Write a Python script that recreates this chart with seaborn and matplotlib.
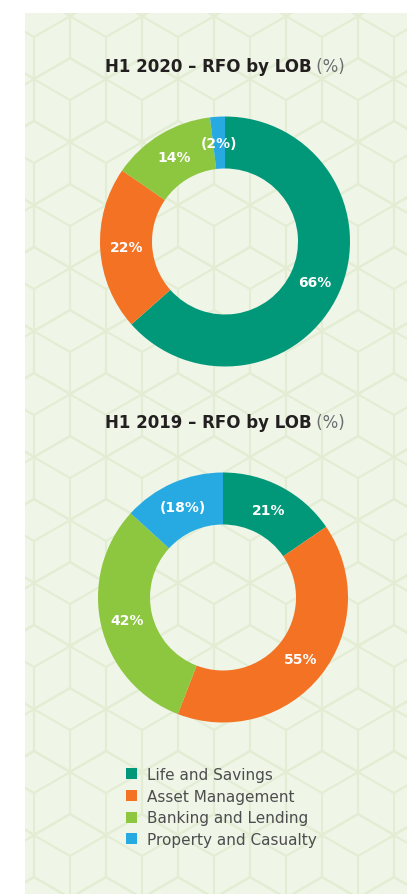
import numpy as np
import matplotlib
matplotlib.use("Agg")
import matplotlib.pyplot as plt
from matplotlib.patches import Rectangle
from matplotlib.collections import LineCollection
import seaborn as sns

# data
categories = ["Life and Savings", "Asset Management", "Banking and Lending", "Property and Casualty"]
rfo_2020 = [66, 22, 14, -2]
rfo_2019 = [21, 55, 42, -18]
titles = ["H1 2020 \u2013 RFO by LOB", "H1 2019 \u2013 RFO by LOB"]
colors = ["#009878", "#F37224", "#8DC63F", "#27AAE1"]

sns.set_theme(style="white")
plt.rcParams["font.family"] = ["DejaVu Sans"]

W, H = 407, 895
PANEL = "#EFF5E7"
HEXLINE = "#E2EDD3"

fig = plt.figure(figsize=(W / 100, H / 100), dpi=100)
fig.patch.set_facecolor("white")

# background panel with the hexagon pattern, in pixel coords
bg = fig.add_axes([0, 0, 1, 1])
bg.set_xlim(0, W)
bg.set_ylim(H, 0)
bg.axis("off")
panel = Rectangle((25, 14), W - 25, H - 14, facecolor=PANEL, edgecolor="none", zorder=0)
bg.add_patch(panel)

R = 42
segs = []
for j in range(-8, 9):
    for i in range(-1, 7):
        cx = 34 + i * 72 + (j % 2) * 36
        cy = 416 + j * 1.5 * R
        pts = [(cx + R * np.cos(np.deg2rad(a)), cy + R * np.sin(np.deg2rad(a))) for a in range(30, 390, 60)]
        for k in range(6):
            segs.append([pts[k], pts[(k + 1) % 6]])
        for a in (90, 210, 330):
            segs.append([(cx, cy), (cx + R * np.cos(np.deg2rad(a)), cy + R * np.sin(np.deg2rad(a)))])
lc = LineCollection(segs, colors=HEXLINE, linewidths=1.5, zorder=1)
bg.add_collection(lc)
lc.set_clip_path(panel)


def fmt(v):
    return f"({abs(v)}%)" if v < 0 else f"{v}%"


def donut(cx, cy, r, values):
    ax = fig.add_axes([(cx - r) / W, 1 - (cy + r) / H, 2 * r / W, 2 * r / H])
    wedges, _ = ax.pie(np.abs(values), colors=colors, startangle=90, counterclock=False,
                       wedgeprops=dict(width=0.416, linewidth=0))
    ax.set_xlim(-1, 1)
    ax.set_ylim(-1, 1)
    ax.axis("off")
    for w, v in zip(wedges, values):
        a = np.deg2rad((w.theta1 + w.theta2) / 2)
        ax.text(0.79 * np.cos(a), 0.79 * np.sin(a), fmt(v), ha="center", va="center",
                color="white", fontsize=10, fontweight="semibold")
    return wedges


def title(y, bold):
    t1 = bg.text(0, y, bold, fontsize=12, fontweight="bold", color="#231F20", va="center")
    t2 = bg.text(0, y, " (%)", fontsize=12, color="#6D6E71", va="center")
    fig.canvas.draw()
    rend = fig.canvas.get_renderer()
    w1 = t1.get_window_extent(rend).width
    w2 = t2.get_window_extent(rend).width
    x0 = 225 - (w1 + w2) / 2
    t1.set_x(x0)
    t2.set_x(x0 + w1)


wedges = donut(225, 242.5, 125, rfo_2020)
donut(223, 598.5, 125, rfo_2019)
title(67, titles[0])
title(423, titles[1])

fig.legend(handles=wedges, labels=categories, loc="upper left",
           bbox_to_anchor=(126 / W, 1 - 768 / H), frameon=False,
           fontsize=11, labelcolor="#4D4D4F", handlelength=0.72, handleheight=0.72,
           handletextpad=0.65, labelspacing=0.44, borderpad=0, borderaxespad=0)

fig.savefig("out.png", dpi=100, facecolor="white")
